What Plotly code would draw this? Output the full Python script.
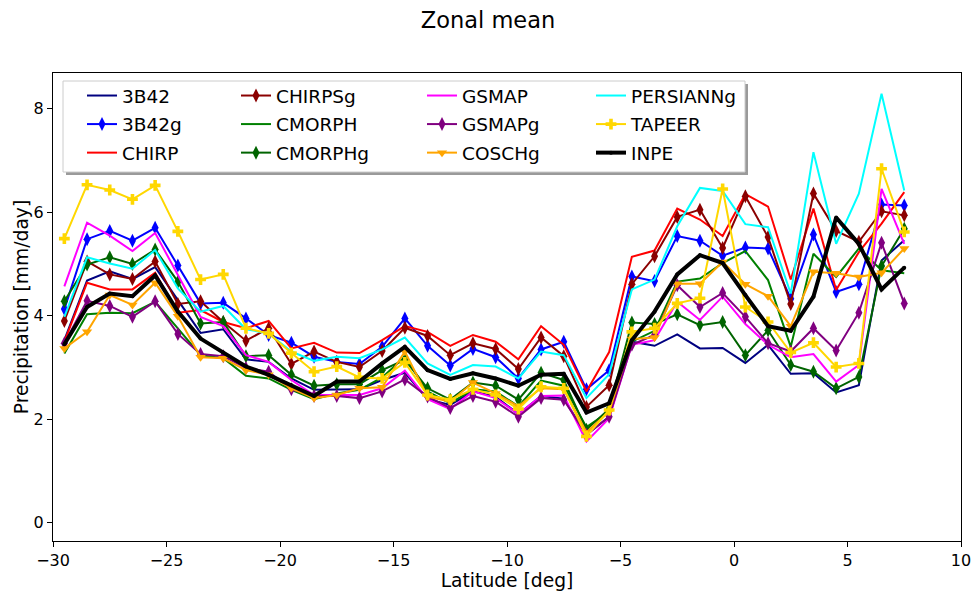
import plotly.graph_objects as go

lat = [-29.5 + i for i in range(38)]

b3B42 = [3.53, 4.68, 4.86, 4.71, 4.94, 4.30, 3.67, 3.74, 3.16, 3.11, 2.79, 2.57, 2.57, 2.58, 2.76, 2.90,
         2.39, 2.28, 2.54, 2.44, 2.10, 2.45, 2.40, 1.70, 2.05, 3.50, 3.42, 3.64, 3.37, 3.38, 3.09, 3.44,
         2.88, 2.89, 2.52, 2.66, 5.07, 5.46]
b3B42g = [4.13, 5.48, 5.64, 5.45, 5.70, 4.97, 4.24, 4.25, 3.95, 3.63, 3.48, 3.21, 3.11, 3.07, 3.40, 3.95,
          3.42, 3.04, 3.36, 3.20, 2.79, 3.35, 3.50, 2.58, 2.95, 4.76, 4.67, 5.54, 5.45, 5.16, 5.32, 5.30,
          4.33, 5.57, 4.46, 4.61, 6.15, 6.13]
chirp = [3.50, 4.64, 4.51, 4.51, 4.83, 4.06, 4.11, 3.88, 3.76, 3.90, 3.37, 3.48, 3.29, 3.28, 3.53, 3.80,
         3.69, 3.42, 3.63, 3.50, 3.16, 3.80, 3.44, 2.54, 3.30, 5.14, 5.26, 6.07, 5.86, 5.54, 6.35, 6.11,
         4.70, 6.07, 4.50, 5.23, 5.78, 6.39]
chirpsg = [3.90, 5.05, 4.80, 4.71, 5.05, 4.23, 4.28, 3.88, 3.52, 3.76, 3.07, 3.31, 3.11, 3.01, 3.32, 3.77,
           3.61, 3.24, 3.47, 3.36, 2.97, 3.58, 3.22, 2.24, 2.66, 4.61, 5.15, 5.91, 6.05, 5.31, 6.31, 5.52,
           4.23, 6.36, 5.64, 5.43, 6.02, 5.94]
cmorph = [3.27, 4.03, 4.06, 4.05, 4.27, 3.75, 3.24, 3.18, 2.84, 2.79, 2.57, 2.39, 2.50, 2.57, 2.81, 3.21,
          2.54, 2.31, 2.58, 2.54, 2.25, 2.75, 2.65, 1.85, 2.15, 3.50, 3.71, 4.66, 4.72, 5.02, 5.25, 4.69,
          3.40, 5.20, 4.75, 5.30, 4.88, 4.82]
cmorphg = [4.28, 4.99, 5.13, 5.00, 5.28, 4.66, 3.85, 3.88, 3.22, 3.24, 2.86, 2.65, 2.68, 2.68, 2.95, 3.15,
           2.60, 2.38, 2.71, 2.65, 2.38, 2.90, 2.76, 1.80, 2.20, 3.87, 3.84, 4.03, 3.82, 3.88, 3.24, 3.72,
           3.05, 2.92, 2.60, 2.82, 4.96, 5.68]
gsmap = [4.57, 5.80, 5.55, 5.25, 5.60, 4.78, 3.98, 3.80, 3.24, 3.11, 2.76, 2.47, 2.47, 2.47, 2.60, 2.94,
         2.39, 2.20, 2.54, 2.41, 2.10, 2.45, 2.46, 1.57, 2.02, 3.44, 3.53, 4.27, 3.92, 4.37, 3.84, 3.44,
         3.20, 3.26, 2.73, 3.05, 6.45, 5.39]
gsmapg = [3.47, 4.29, 4.19, 3.98, 4.28, 3.65, 3.26, 3.22, 2.99, 2.92, 2.58, 2.45, 2.45, 2.41, 2.54, 2.77,
          2.44, 2.22, 2.45, 2.34, 2.05, 2.41, 2.38, 1.70, 2.05, 3.44, 3.63, 4.59, 4.17, 4.44, 3.98, 3.47,
          3.31, 3.76, 3.33, 4.06, 5.41, 4.24]
coschg = [3.37, 3.69, 4.40, 4.21, 4.64, 3.99, 3.20, 3.18, 2.95, 2.86, 2.60, 2.41, 2.47, 2.60, 2.62, 3.31,
          2.44, 2.34, 2.71, 2.50, 2.25, 2.60, 2.58, 1.75, 2.15, 3.55, 3.58, 4.62, 4.62, 5.04, 4.61, 4.38,
          3.80, 4.85, 4.82, 4.75, 4.83, 5.30]
persianng = [3.98, 5.13, 5.01, 4.91, 5.27, 4.53, 4.08, 4.19, 3.74, 3.66, 3.31, 3.13, 3.21, 3.18, 3.35, 3.58,
             3.08, 2.86, 3.05, 3.02, 2.79, 3.31, 3.24, 2.41, 2.87, 4.51, 4.70, 5.73, 6.47, 6.41, 5.77, 5.71,
             4.43, 7.16, 5.39, 6.36, 8.29, 6.42]
tapeer = [5.49, 6.53, 6.43, 6.25, 6.52, 5.63, 4.70, 4.80, 3.76, 3.66, 3.28, 2.92, 3.02, 2.81, 2.79, 3.10,
          2.47, 2.38, 2.58, 2.47, 2.20, 2.63, 2.60, 1.67, 2.18, 3.69, 3.76, 4.24, 4.34, 6.45, 4.17, 3.88,
          3.29, 3.48, 3.01, 3.08, 6.84, 5.62]
inpe = [3.45, 4.17, 4.43, 4.38, 4.78, 4.08, 3.56, 3.29, 3.02, 2.86, 2.66, 2.45, 2.73, 2.73, 3.08, 3.40,
        2.95, 2.78, 2.89, 2.79, 2.65, 2.86, 2.88, 2.13, 2.31, 3.53, 4.08, 4.80, 5.17, 5.02, 4.40, 3.80,
        3.71, 4.37, 5.90, 5.39, 4.51, 4.93]

series = [
    ("3B42", b3B42, "#000080", None, 2, "legend"),
    ("3B42g", b3B42g, "#0000ff", "diamond-tall", 2, "legend"),
    ("CHIRP", chirp, "#ff0000", None, 2, "legend"),
    ("CHIRPSg", chirpsg, "#8b0000", "diamond-tall", 2, "legend2"),
    ("CMORPH", cmorph, "#008000", None, 2, "legend2"),
    ("CMORPHg", cmorphg, "#006400", "diamond-tall", 2, "legend2"),
    ("GSMAP", gsmap, "#ff00ff", None, 2, "legend3"),
    ("GSMAPg", gsmapg, "#800080", "diamond-tall", 2, "legend3"),
    ("COSCHg", coschg, "#ffa500", "triangle-down", 2, "legend3"),
    ("PERSIANNg", persianng, "#00ffff", None, 2, "legend4"),
    ("TAPEER", tapeer, "#ffd700", "cross", 2, "legend4"),
    ("INPE", inpe, "#000000", "circle", 4, "legend4"),
]

fig = go.Figure()
for name, vals, color, sym, lw, lg in series:
    if sym is None:
        mode = "lines"
        marker = None
    else:
        mode = "lines+markers"
        size = {"diamond-tall": 10, "triangle-down": 9, "cross": 9, "circle": 4}[sym]
        marker = dict(symbol=sym, size=size, color=color, line=dict(width=0))
    fig.add_trace(go.Scatter(x=lat, y=vals, name=name, mode=mode, legendgroup=name,
                             line=dict(color=color, width=lw), marker=marker, legend=lg))

W, H = 976, 595
L, R, T, B = 53, 15, 73, 54
pw, ph = W - L - R, H - T - B

def px2x(p):
    return (p - L) / pw

def py2y(p):
    return (H - B - p) / ph

legfont = dict(family="DejaVu Sans", size=18.5, color="black")
col_left = [82, 236, 422, 591]
names = ["legend", "legend2", "legend3", "legend4"]
layout_legends = {}
for n, cx in zip(names, col_left):
    layout_legends[n] = dict(x=px2x(cx), y=py2y(77), xanchor="left", yanchor="top",
                             bgcolor="rgba(0,0,0,0)", borderwidth=0, font=legfont,
                             tracegroupgap=1.5, orientation="v")

fig.update_layout(
    width=W, height=H,
    margin=dict(l=L, r=R, t=T, b=B, autoexpand=False),
    paper_bgcolor="white", plot_bgcolor="white",
    font=dict(family="DejaVu Sans", size=16, color="black"),
    title=dict(text="Zonal mean", x=0.5, xref="container", xanchor="center",
               y=1 - 20 / H, yref="container", yanchor="middle",
               font=dict(family="DejaVu Sans", size=22.5, color="black")),
    showlegend=True,
    **layout_legends,
)

fig.add_shape(type="rect", xref="paper", yref="paper",
              x0=px2x(66), x1=px2x(748), y0=py2y(175), y1=py2y(84),
              line=dict(width=0), fillcolor="#9a9a9a", layer="above")
fig.add_shape(type="rect", xref="paper", yref="paper",
              x0=px2x(63), x1=px2x(745), y0=py2y(172), y1=py2y(81),
              line=dict(width=1, color="#cccccc"), fillcolor="white", layer="above")

fig.update_xaxes(range=[-30, 10], tickvals=[-30, -25, -20, -15, -10, -5, 0, 5, 10],
                 showgrid=False, zeroline=False, showline=True, linecolor="black", linewidth=1,
                 mirror=True, ticks="outside", ticklen=5, tickwidth=1, tickcolor="black",
                 tickfont=dict(size=16), automargin=False,
                 title=dict(text="Latitude [deg]", font=dict(size=18.7), standoff=4))
fig.update_yaxes(range=[-0.35, 8.69], tickvals=[0, 2, 4, 6, 8],
                 showgrid=False, zeroline=False, showline=True, linecolor="black", linewidth=1,
                 mirror=True, ticks="outside", ticklen=5, tickwidth=1, tickcolor="black",
                 tickfont=dict(size=16), automargin=False,
                 title=dict(text="Precipitation [mm/day]", font=dict(size=18.7), standoff=0))

fig.write_html("out.html", config={"displayModeBar": False},
               post_script="document.body.style.margin='0px';document.body.style.padding='0px';")
